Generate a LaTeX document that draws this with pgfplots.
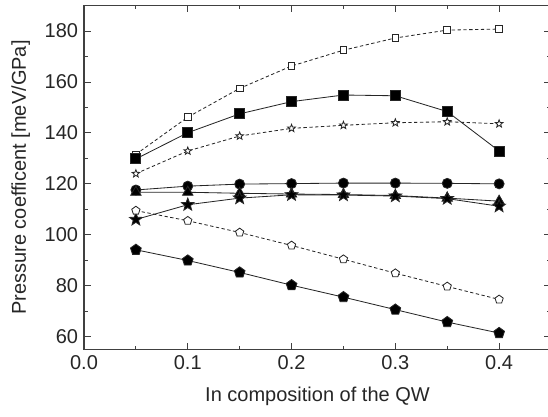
\documentclass[border=0pt]{standalone}
\usepackage{pgfplots}
\pgfplotsset{compat=1.18}
\usepackage{fontspec}
\setmainfont{Liberation Sans}
\usetikzlibrary{plotmarks}

% filled / open five-pointed star
\pgfdeclareplotmark{pstar}{%
  \pgfpathmoveto{\pgfpointpolar{90}{\pgfplotmarksize}}%
  \pgfpathlineto{\pgfpointpolar{126}{0.42\pgfplotmarksize}}%
  \pgfpathlineto{\pgfpointpolar{162}{\pgfplotmarksize}}%
  \pgfpathlineto{\pgfpointpolar{198}{0.42\pgfplotmarksize}}%
  \pgfpathlineto{\pgfpointpolar{234}{\pgfplotmarksize}}%
  \pgfpathlineto{\pgfpointpolar{270}{0.42\pgfplotmarksize}}%
  \pgfpathlineto{\pgfpointpolar{306}{\pgfplotmarksize}}%
  \pgfpathlineto{\pgfpointpolar{342}{0.42\pgfplotmarksize}}%
  \pgfpathlineto{\pgfpointpolar{18}{\pgfplotmarksize}}%
  \pgfpathlineto{\pgfpointpolar{54}{0.42\pgfplotmarksize}}%
  \pgfpathclose
  \pgfusepathqfillstroke}

\begin{document}
\begin{tikzpicture}
\begin{axis}[
  name=ax,
  scale only axis,
  width=280.2pt, height=206.2pt,
  xmin=0, xmax=0.45, ymin=55, ymax=190,
  xtick distance=0.1, ytick distance=20,
  minor x tick num=1, minor y tick num=1,
  tick align=inside,
  major tick length=4pt, minor tick length=2.2pt,
  axis line style={line width=0.8pt, black!75},
  tick style={line width=0.6pt, black!75},
  every axis plot/.append style={line width=0.5pt, black!85},
  /pgf/number format/assume math mode=true,
  xticklabel style={/pgf/number format/fixed, /pgf/number format/fixed zerofill, /pgf/number format/precision=1},
  ticklabel style={font=\fontsize{12}{14}\selectfont, text=black!85},
  label style={font=\fontsize{12}{14}\selectfont, text=black!85},
  xlabel={In composition of the QW},
  ylabel={Pressure coefficent [meV/GPa]},
  xlabel style={yshift=-4pt},
  ylabel style={yshift=2pt},
]
% open squares, dashed
\addplot[dashed, dash pattern=on 2pt off 1.5pt, mark=square*, mark size=2pt, mark options={solid, fill=white}] coordinates {
(0.05,131.6) (0.10,146.2) (0.15,157.5) (0.20,166.3) (0.25,172.5) (0.30,177.3) (0.35,180.4) (0.40,180.8)};
% filled squares
\addplot[mark=square*, mark size=3pt, mark options={fill=black}] coordinates {
(0.05,129.8) (0.10,140.1) (0.15,147.5) (0.20,152.3) (0.25,154.9) (0.30,154.6) (0.35,148.4) (0.40,132.9)};
% open stars, dashed
\addplot[dashed, dash pattern=on 2pt off 1.5pt, mark=pstar, mark size=2.4pt, mark options={solid, fill=white}] coordinates {
(0.05,124.0) (0.10,132.9) (0.15,138.8) (0.20,141.8) (0.25,143.0) (0.30,144.0) (0.35,144.4) (0.40,143.6)};
% filled circles
\addplot[mark=*, mark size=3pt, mark options={fill=black}] coordinates {
(0.05,117.6) (0.10,119.1) (0.15,119.9) (0.20,120.1) (0.25,120.3) (0.30,120.3) (0.35,120.2) (0.40,120.0)};
% filled triangles
\addplot[mark=triangle*, mark size=3.6pt, mark options={fill=black}] coordinates {
(0.05,116.7) (0.10,116.7) (0.15,116.3) (0.20,116.0) (0.25,115.8) (0.30,115.4) (0.35,114.4) (0.40,113.2)};
% filled stars
\addplot[mark=pstar, mark size=4pt, mark options={fill=black}] coordinates {
(0.05,106.0) (0.10,111.8) (0.15,114.4) (0.20,115.7) (0.25,115.6) (0.30,115.2) (0.35,114.2) (0.40,111.2)};
% open pentagons, dashed
\addplot[dashed, dash pattern=on 2pt off 1.5pt, mark=pentagon*, mark size=2.6pt, mark options={solid, fill=white}] coordinates {
(0.05,109.5) (0.10,105.5) (0.15,100.9) (0.20,95.8) (0.25,90.4) (0.30,84.9) (0.35,79.7) (0.40,74.6)};
% filled pentagons
\addplot[mark=pentagon*, mark size=3.4pt, mark options={fill=black}] coordinates {
(0.05,94.1) (0.10,89.9) (0.15,85.2) (0.20,80.2) (0.25,75.5) (0.30,70.6) (0.35,65.7) (0.40,61.4)};
\end{axis}
\pgfresetboundingbox
\path ([shift={(-50.4pt,-40.6pt)}]ax.south west) rectangle ([shift={(-1.8pt,3.4pt)}]ax.north east);
\end{tikzpicture}
\end{document}
